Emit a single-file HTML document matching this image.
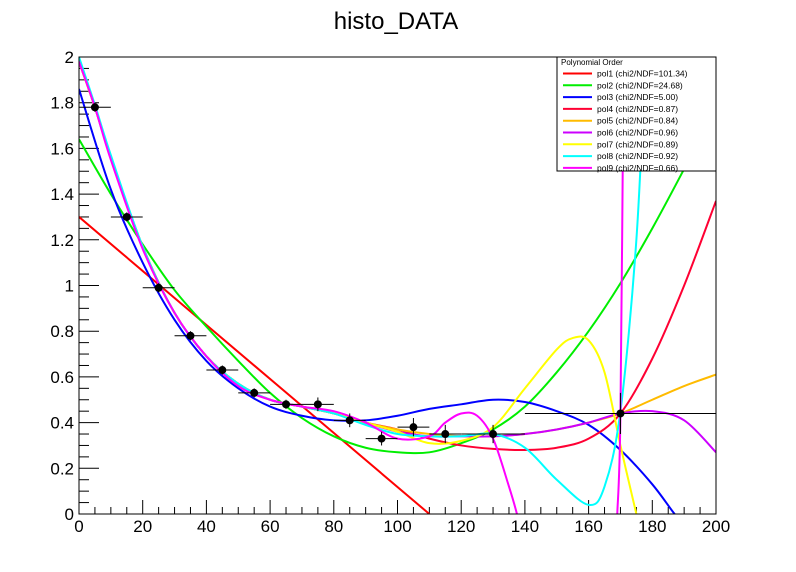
<!DOCTYPE html>
<html><head><meta charset="utf-8"><style>
html,body{margin:0;padding:0;background:#fff;overflow:hidden;width:796px;height:572px;}
svg{display:block;}
svg text{font-family:"Liberation Sans",Arial,sans-serif;}
</style></head><body>
<svg id="chart" width="796" height="572" viewBox="0 0 796 572" xmlns="http://www.w3.org/2000/svg">
<defs><clipPath id="pc"><rect x="79" y="57" width="637" height="457"/></clipPath></defs>
<rect width="796" height="572" fill="#fff"/>
<text x="396" y="29" font-size="24" text-anchor="middle">histo_DATA</text>
<g id="axes"></g>
<g id="curves" clip-path="url(#pc)"></g>
<g id="points"></g>
<rect x="79" y="57" width="637" height="457" fill="none" stroke="#000" stroke-width="1"/>
<g id="legend"></g>
</svg>
<script>
const binLo = [0,10,20,30,40,50,60,70,80,90,100,110,120,140];
const binHi = [10,20,30,40,50,60,70,80,90,100,110,120,140,200];
const binVal = [1.78,1.30,0.99,0.78,0.63,0.53,0.48,0.48,0.41,0.33,0.38,0.35,0.35,0.44];
const binErr = [0.02,0.02,0.02,0.02,0.02,0.02,0.02,0.03,0.03,0.03,0.04,0.04,0.04,0.09];
const xTicks = [0,20,40,60,80,100,120,140,160,180,200];
const yTicks = [0,0.2,0.4,0.6,0.8,1,1.2,1.4,1.6,1.8,2];
const yTickLabels = ["0","0.2","0.4","0.6","0.8","1","1.2","1.4","1.6","1.8","2"];
const curveNames = ["pol1 (chi2/NDF=101.34)","pol2 (chi2/NDF=24.68)","pol3 (chi2/NDF=5.00)","pol4 (chi2/NDF=0.87)","pol5 (chi2/NDF=0.84)","pol6 (chi2/NDF=0.96)","pol7 (chi2/NDF=0.89)","pol8 (chi2/NDF=0.92)","pol9 (chi2/NDF=0.66)"];
const curveColors = ["#ff0000","#00ee00","#0000ff","#ff0033","#ffbb00","#cc00ff","#ffff00","#00ffff","#ff00ff"];
const pol1X = [0,110,115];
const pol1Y = [1.30,0,-0.06];
const pol2X = [0,10,20,30,40,50,60,70,80,90,100,110,120,130,140,150,160,170,180,190,200];
const pol2Y = [1.64,1.40,1.18,0.98,0.82,0.67,0.53,0.42,0.34,0.29,0.27,0.27,0.31,0.37,0.47,0.62,0.80,1.01,1.25,1.51,1.78];
const pol3X = [0,10,20,30,40,50,60,70,80,90,100,110,120,130,140,150,160,170,180,187,192];
const pol3Y = [1.86,1.42,1.10,0.85,0.67,0.55,0.47,0.43,0.41,0.41,0.43,0.46,0.48,0.50,0.49,0.45,0.39,0.28,0.13,0,-0.08];
const pol4X = [0,5,10,20,30,40,50,60,70,80,90,100,110,120,130,140,150,160,170,180,190,200];
const pol4Y = [1.98,1.78,1.56,1.17,0.88,0.69,0.57,0.50,0.47,0.44,0.40,0.37,0.33,0.30,0.285,0.28,0.29,0.33,0.44,0.68,1.00,1.37];
const pol5X = [0,5,10,20,30,40,50,60,70,80,90,100,110,120,130,140,150,160,170,180,190,200];
const pol5Y = [1.98,1.78,1.56,1.17,0.88,0.69,0.57,0.50,0.47,0.44,0.40,0.37,0.35,0.34,0.34,0.35,0.37,0.40,0.44,0.50,0.56,0.61];
const pol6X = [0,5,10,20,30,40,50,60,70,80,90,100,110,120,130,140,150,160,170,180,190,200];
const pol6Y = [1.98,1.78,1.56,1.17,0.88,0.69,0.57,0.50,0.47,0.44,0.40,0.36,0.34,0.34,0.34,0.35,0.37,0.40,0.44,0.45,0.41,0.27];
const pol7X = [0,5,10,20,30,40,50,60,70,80,90,100,110,120,130,140,150,155,160,165,170,175,177];
const pol7Y = [1.98,1.78,1.56,1.17,0.88,0.69,0.57,0.50,0.47,0.44,0.40,0.36,0.31,0.32,0.38,0.55,0.72,0.77,0.76,0.62,0.30,0,-0.1];
const pol8X = [0,5,10,20,30,40,50,60,70,80,90,100,110,120,130,140,150,160,165,170,175,178];
const pol8Y = [2.0,1.79,1.57,1.17,0.88,0.69,0.57,0.50,0.47,0.44,0.39,0.35,0.34,0.34,0.35,0.29,0.15,0.04,0.12,0.45,1.2,2.05];
const pol9X = [0,5,10,20,30,40,50,60,70,80,90,100,110,115,120,125,130,135,137.5,139];
const pol9Y = [1.98,1.78,1.55,1.16,0.88,0.69,0.56,0.50,0.47,0.45,0.40,0.33,0.34,0.40,0.44,0.43,0.33,0.12,0,-0.1];
const pol9bX = [168.8,169,170,171,171.1];
const pol9bY = [-0.05,0,0.44,2.0,2.05];
const curvesX = [pol1X,pol2X,pol3X,pol4X,pol5X,pol6X,pol7X,pol8X,pol9X];
const curvesY = [pol1Y,pol2Y,pol3Y,pol4Y,pol5Y,pol6Y,pol7Y,pol8Y,pol9Y];

const NS="http://www.w3.org/2000/svg";
const X0=79,X1=716,Y0=514,Y1=57;
function sx(v){return X0+(v-0)/(200-0)*(X1-X0);}
function sy(v){return Y0-(v-0)/(2-0)*(Y0-Y1);}
function mk(tag,attrs,parent){const e=document.createElementNS(NS,tag);for(const k in attrs)e.setAttribute(k,attrs[k]);parent.appendChild(e);return e;}
const axes=document.getElementById('axes');
for(let v=0;v<=200;v+=5){
  const major=(v%20===0);
  const t=mk('line',{x1:sx(v),x2:sx(v),y1:Y0,y2:Y0-(major?14:7),stroke:'#000','stroke-width':1},axes);
  
  
}
xTicks.forEach(v=>{
  const t=mk('text',{x:sx(v),y:Y0+18,'font-size':17,'text-anchor':'middle'},axes);
  t.textContent=String(v);
  
  
});
for(let i=0;i<=40;i++){
  const v=i*0.05;const major=(i%4===0);
  const t=mk('line',{x1:X0,x2:X0+(major?20:10),y1:sy(v),y2:sy(v),stroke:'#000','stroke-width':1},axes);
  
  
}
yTicks.forEach((v,i)=>{
  const t=mk('text',{x:X0-5,y:sy(v)+6,'font-size':17,'text-anchor':'end'},axes);
  t.textContent=yTickLabels[i];
  
  
});
function pathFor(xs,ys){
  const P=xs.map((x,i)=>[sx(x),sy(ys[i])]);
  let d='M'+P[0][0]+','+P[0][1];
  for(let i=0;i<P.length-1;i++){
    const p0=P[Math.max(0,i-1)],p1=P[i],p2=P[i+1],p3=P[Math.min(P.length-1,i+2)];
    const c1=[p1[0]+(p2[0]-p0[0])/6,p1[1]+(p2[1]-p0[1])/6];
    const c2=[p2[0]-(p3[0]-p1[0])/6,p2[1]-(p3[1]-p1[1])/6];
    d+=' C'+c1[0]+','+c1[1]+' '+c2[0]+','+c2[1]+' '+p2[0]+','+p2[1];
  }
  return d;
}
const cg=document.getElementById('curves');
curvesX.forEach((xs,i)=>{
  const p=mk('path',{d:pathFor(xs,curvesY[i]),fill:'none',stroke:curveColors[i],'stroke-width':2},cg);
  
  
});
const p9=mk('path',{d:pathFor(pol9bX,pol9bY),fill:'none',stroke:curveColors[8],'stroke-width':2},cg);


const pg=document.getElementById('points');
binVal.forEach((v,i)=>{
  const xc=(binLo[i]+binHi[i])/2;
  const g=mk('g',{},pg);
  
  
  mk('line',{x1:sx(binLo[i]),x2:sx(binHi[i]),y1:sy(v),y2:sy(v),stroke:'#000','stroke-width':1},g);
  mk('line',{x1:sx(xc),x2:sx(xc),y1:sy(v-binErr[i]),y2:sy(v+binErr[i]),stroke:'#000','stroke-width':1},g);
  mk('circle',{cx:sx(xc),cy:sy(v),r:4,fill:'#000'},g);
});
const lg=document.getElementById('legend');
const box=mk('rect',{x:557,y:57,width:159,height:114,fill:'#fff',stroke:'#000','stroke-width':1},lg);


const lt=mk('text',{x:561,y:65,'font-size':8},lg);
lt.textContent='Polynomial Order';


curveNames.forEach((n,i)=>{
  const y=73.5+i*11.8;
  const g=mk('g',{},lg);
  
  
  mk('line',{x1:563,x2:592,y1:y,y2:y,stroke:curveColors[i],'stroke-width':2},g);
  const t=mk('text',{x:597,y:y+3,'font-size':8.5},g);
  t.textContent=n;
});
</script>
</body></html>
